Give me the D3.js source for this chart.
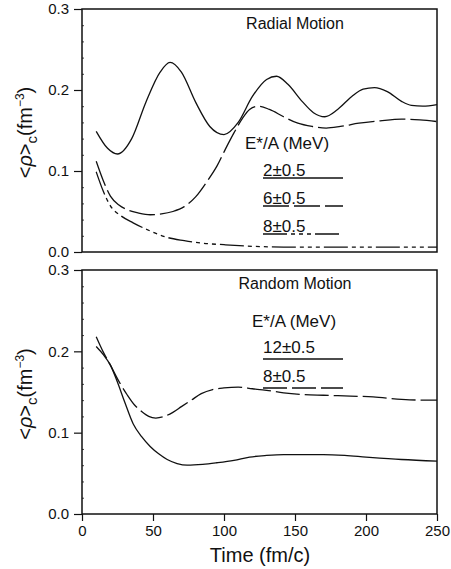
<!DOCTYPE html>
<html>
<head>
<meta charset="utf-8">
<script src="https://cdn.jsdelivr.net/npm/d3@7"></script>
<style>
  body { margin: 0; background: #fff; }
  text { font-family: "Liberation Sans", Arial, sans-serif; fill: #111; }
  .tick line { stroke: #111; stroke-width: 1.2; }
</style>
</head>
<body>
<div id="plot"></div>
<script>
// time axis values shared by the tick labels
var time_ticks = [0, 50, 100, 150, 200, 250];
var rho_ticks = [0.0, 0.1, 0.2, 0.3];

// radial motion, E*/A = 2 +- 0.5 (solid)
var radial_2_t = [10, 18, 25, 35, 45, 55, 62, 70, 80, 90, 100, 110, 120, 130, 137, 145, 155, 163, 171, 180, 190, 198, 206, 215, 225, 232, 240, 250];
var radial_2_rho = [0.149, 0.128, 0.121, 0.140, 0.185, 0.222, 0.234, 0.222, 0.185, 0.155, 0.145, 0.160, 0.192, 0.213, 0.217, 0.207, 0.186, 0.172, 0.167, 0.176, 0.192, 0.201, 0.203, 0.198, 0.186, 0.181, 0.180, 0.182];

// radial motion, E*/A = 6 +- 0.5 (long dash)
var radial_6_t = [10, 15, 20, 26, 32, 40, 48, 56, 64, 72, 80, 88, 95, 101, 107, 113, 118, 124, 132, 142, 152, 162, 172, 182, 195, 210, 225, 238, 250];
var radial_6_rho = [0.112, 0.088, 0.069, 0.058, 0.052, 0.048, 0.046, 0.047, 0.050, 0.056, 0.068, 0.087, 0.106, 0.127, 0.147, 0.165, 0.176, 0.180, 0.176, 0.167, 0.159, 0.155, 0.153, 0.155, 0.159, 0.162, 0.164, 0.163, 0.161];

// radial motion, E*/A = 8 +- 0.5 (dash-dot)
var radial_8_t = [10, 15, 20, 28, 36, 48, 60, 72, 84, 100, 120, 150, 200, 250];
var radial_8_rho = [0.099, 0.075, 0.057, 0.044, 0.036, 0.026, 0.018, 0.014, 0.011, 0.009, 0.007, 0.006, 0.006, 0.006];

// random motion, E*/A = 12 +- 0.5 (solid)
var random_12_t = [10, 15, 20, 25, 30, 36, 42, 48, 54, 60, 67, 74, 85, 95, 107, 118, 130, 142, 155, 170, 185, 200, 225, 250];
var random_12_rho = [0.206, 0.196, 0.183, 0.162, 0.138, 0.111, 0.095, 0.083, 0.074, 0.067, 0.062, 0.060, 0.061, 0.063, 0.066, 0.070, 0.072, 0.073, 0.073, 0.073, 0.072, 0.070, 0.067, 0.065];

// random motion, E*/A = 8 +- 0.5 (dash)
var random_8_t = [10, 15, 20, 26, 32, 37, 42, 47, 52, 58, 64, 70, 77, 84, 92, 100, 110, 120, 130, 142, 155, 170, 189, 205, 225, 240, 250];
var random_8_rho = [0.218, 0.199, 0.183, 0.163, 0.146, 0.134, 0.126, 0.120, 0.118, 0.120, 0.125, 0.132, 0.140, 0.148, 0.153, 0.155, 0.156, 0.154, 0.152, 0.149, 0.147, 0.146, 0.145, 0.144, 0.141, 0.140, 0.140];

var radial_labels = ["2\u00b10.5", "6\u00b10.5", "8\u00b10.5"];
var random_labels = ["12\u00b10.5", "8\u00b10.5"];

function zip(ts, vs) {
    return ts.map(function(t, i) { return {t: t, v: vs[i]}; });
}

var svg = d3.select("#plot").append("svg").attr("width", 451).attr("height", 569);

var x = d3.scaleLinear().domain([0, 250]).range([82, 437]);

function draw_panel(top, bottom, title, title_y, series, labels, legend) {
    var y = d3.scaleLinear().domain([0, 0.3]).range([bottom, top]);
    var g = svg.append("g");

    // minor ticks inside the left edge
    var minor = d3.range(0.02, 0.3, 0.02).filter(function(d) { return Math.abs(d * 10 - Math.round(d * 10)) > 0.01; });
    g.append("g").attr("transform", "translate(82,0)")
        .call(d3.axisRight(y).tickValues(minor).tickSize(2).tickFormat(""))
        .call(function(a) { a.select(".domain").remove(); a.selectAll("line").style("stroke-width", 0.8); });

    g.append("g").attr("transform", "translate(82,0)")
        .call(d3.axisLeft(y).tickValues(rho_ticks).tickSize(8).tickPadding(5).tickFormat(d3.format(".1f")))
        .call(function(a) { a.select(".domain").remove(); a.selectAll("text").style("font-size", "15px").style("fill", "#111"); });

    g.append("rect").attr("x", x(0)).attr("y", top).attr("width", x(250) - x(0)).attr("height", bottom - top)
        .style("fill", "none").style("stroke", "#111").style("stroke-width", 1.5);

    var line = d3.line().x(function(d) { return x(d.t); }).y(function(d) { return y(d.v); }).curve(d3.curveMonotoneX);
    series.forEach(function(s) {
        g.append("path").datum(s.data).attr("d", line)
            .style("fill", "none").style("stroke", "#111").style("stroke-width", 1.3)
            .style("stroke-dasharray", s.dash);
    });

    g.append("text").attr("x", 295).attr("y", title_y).attr("text-anchor", "middle")
        .style("font-size", "16px").text(title);

    g.append("text").attr("x", legend.hx).attr("y", legend.hy).style("font-size", "17px").text("E*/A (MeV)");
    labels.forEach(function(lab, i) {
        var ly = legend.y0 + i * legend.step;
        g.append("text").attr("x", 263).attr("y", ly).style("font-size", "17px").text(lab);
        g.append("line").attr("x1", 263).attr("x2", 343).attr("y1", ly + legend.gap).attr("y2", ly + legend.gap)
            .style("stroke", "#111").style("stroke-width", 1.3).style("stroke-dasharray", series[i].dash);
    });

    // y axis title
    var yt = g.append("text").attr("transform", "translate(32," + ((top + bottom) / 2 + 2) + ") rotate(-90)")
        .attr("text-anchor", "middle").style("font-size", "20px");
    yt.append("tspan").text("<");
    yt.append("tspan").style("font-style", "italic").text("\u03c1");
    yt.append("tspan").text(">");
    yt.append("tspan").attr("dy", 5).style("font-size", "15px").text("c");
    yt.append("tspan").attr("dy", -5).text("(fm");
    yt.append("tspan").attr("dy", -8).style("font-size", "12px").text("\u22123");
    yt.append("tspan").attr("dy", 8).text(")");

    return g;
}

draw_panel(9, 252, "Radial Motion", 29, [
    {data: zip(radial_2_t, radial_2_rho), dash: "none"},
    {data: zip(radial_6_t, radial_6_rho), dash: "26,5"},
    {data: zip(radial_8_t, radial_8_rho), dash: "24,4,4,4,4,4,4,4"}
], radial_labels, {hx: 245, hy: 149, y0: 176, step: 28, gap: 2});

draw_panel(270, 514, "Random Motion", 289, [
    {data: zip(random_12_t, random_12_rho), dash: "none"},
    {data: zip(random_8_t, random_8_rho), dash: "24,5"}
], random_labels, {hx: 252, hy: 327, y0: 353, step: 29, gap: 6});

svg.append("g").attr("transform", "translate(0,514)")
    .call(d3.axisBottom(x).tickValues(time_ticks).tickSize(7).tickPadding(4))
    .call(function(a) { a.select(".domain").remove(); a.selectAll("text").style("font-size", "15px").style("fill", "#111"); });

svg.append("text").attr("x", 260).attr("y", 562).attr("text-anchor", "middle")
    .style("font-size", "20px").text("Time (fm/c)");
</script>
</body>
</html>
